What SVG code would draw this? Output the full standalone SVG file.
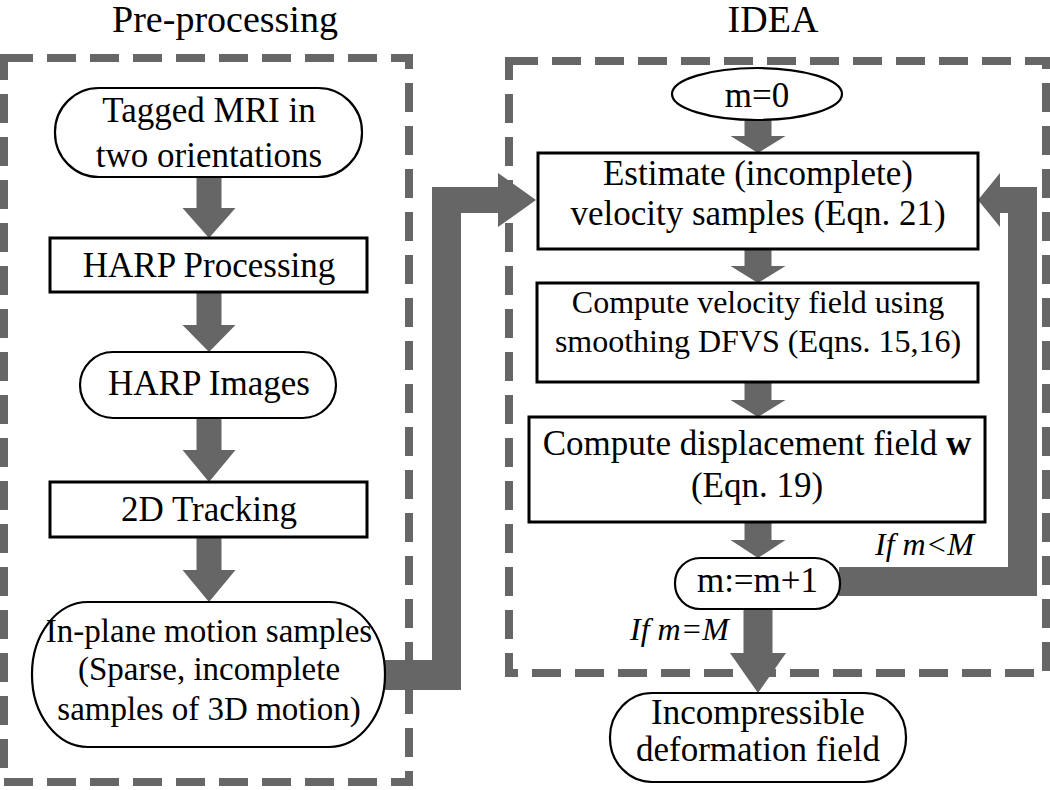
<svg xmlns="http://www.w3.org/2000/svg" width="1050" height="790" viewBox="0 0 1050 790" font-family="'Liberation Serif', 'Times New Roman', Times, 'DejaVu Serif', serif">
<style>
  text { font-family: 'Liberation Serif', 'Times New Roman', Times, 'DejaVu Serif', serif; fill: #000; text-anchor: middle; }
  .title { font-size: 38px; }
  .t { font-size: 35px; }
  .ts { font-size: 33px; }
  .tv { font-size: 32px; }
  .lbl { font-size: 32px; font-style: italic; text-anchor: start; }
  .group { fill: none; stroke: #666; stroke-width: 8; stroke-dasharray: 29 14; }
  .box { fill: #fff; stroke: #000; stroke-width: 3; }
  .pill { fill: #fff; stroke: #000; stroke-width: 2.2; }
  .arr { fill: #666; stroke: none; }
</style>
<rect width="1050" height="790" fill="#fff"/>

<g id="groups">
  <text class="title" x="225" y="32">Pre-processing</text>
  <rect id="preprocessing-box" class="group" x="4" y="58" width="405" height="724"/>
  <text class="title" x="773" y="32" font-size="36">IDEA</text>
  <rect id="idea-box" class="group" x="509" y="61" width="537" height="612"/>
</g>

<g id="connectors">
  <polygon class="arr" points="196.5,177 221.5,177 221.5,208 235.5,208 209,238 182.5,208 196.5,208"/>
  <polygon class="arr" points="196.5,292 221.5,292 221.5,325 235.5,325 209,352 182.5,325 196.5,325"/>
  <polygon class="arr" points="196.5,418 221.5,418 221.5,450 235.5,450 209,482 182.5,450 196.5,450"/>
  <polygon class="arr" points="196.5,537 221.5,537 221.5,570 235.5,570 209,602 182.5,570 196.5,570"/>
  <polygon class="arr" points="384,660 432,660 432,187 498,187 498,173 536,200 498,227 498,213 461,213 461,690 384,690"/>
  <polygon class="arr" points="744.5,120 771.5,120 771.5,136 785.5,136 758,153 730.5,136 744.5,136"/>
  <polygon class="arr" points="744.5,249 771.5,249 771.5,266 785.5,266 758,283 730.5,266 744.5,266"/>
  <polygon class="arr" points="744.5,382 771.5,382 771.5,400 785.5,400 758,417 730.5,400 744.5,400"/>
  <polygon class="arr" points="744.5,522 771.5,522 771.5,540 785.5,540 758,558 730.5,540 744.5,540"/>
  <polygon class="arr" points="743.5,609 772.5,609 772.5,653 786,653 758,693 730,653 743.5,653"/>
  <polygon class="arr" points="839,567 1008,567 1008,213 1000,213 1000,227 978,200 1000,173 1000,187 1037,187 1037,596 839,596"/>
  <text class="lbl" x="875" y="555">If m&lt;M</text>
  <text class="lbl" x="630" y="640">If m=M</text>
</g>

<g id="tagged-mri">
  <rect class="pill" x="55" y="88" width="307" height="89" rx="44" ry="44"/>
  <text class="t" x="209" y="122">Tagged MRI in</text>
  <text class="t" x="209" y="167">two orientations</text>
</g>
<g id="harp-processing">
  <rect class="box" x="50" y="238" width="317" height="54"/>
  <text class="t" x="209" y="277">HARP Processing</text>
</g>
<g id="harp-images">
  <rect class="pill" x="80" y="352" width="256" height="66" rx="33" ry="33"/>
  <text class="t" x="209" y="395">HARP Images</text>
</g>
<g id="tracking-2d">
  <rect class="box" x="50" y="482" width="317" height="55"/>
  <text class="t" x="209" y="521">2D Tracking</text>
</g>
<g id="in-plane-samples">
  <rect class="pill" x="32" y="602" width="353" height="145" rx="56" ry="72"/>
  <text class="ts" x="209" y="642">In-plane motion samples</text>
  <text class="ts" x="209" y="680">(Sparse, incomplete</text>
  <text class="ts" x="209" y="720">samples of 3D motion)</text>
</g>

<g id="m0">
  <ellipse class="pill" cx="757" cy="94" rx="85" ry="26"/>
  <text class="t" x="757" y="107">m=0</text>
</g>
<g id="estimate">
  <rect class="box" x="538" y="153" width="440" height="96"/>
  <text class="t" x="758" y="185">Estimate (incomplete)</text>
  <text class="t" x="758" y="225">velocity samples (Eqn. 21)</text>
</g>
<g id="compute-velocity">
  <rect class="box" x="537" y="283" width="441" height="99"/>
  <text class="tv" x="758" y="313">Compute velocity field using</text>
  <text class="tv" x="758" y="352">smoothing DFVS (Eqns. 15,16)</text>
</g>
<g id="compute-displacement">
  <rect class="box" x="529" y="417" width="456" height="105"/>
  <text class="t" x="757" y="455">Compute displacement field <tspan font-weight="bold">w</tspan></text>
  <text class="t" x="757" y="497">(Eqn. 19)</text>
</g>
<g id="m-increment">
  <rect class="pill" x="675" y="558" width="165" height="51" rx="25" ry="25"/>
  <text class="t" x="757.5" y="592">m:=m+1</text>
</g>
<g id="incompressible">
  <rect class="pill" x="610" y="693" width="296" height="89" rx="42" ry="44"/>
  <text class="t" x="758" y="724">Incompressible</text>
  <text class="t" x="758" y="761">deformation field</text>
</g>
</svg>
